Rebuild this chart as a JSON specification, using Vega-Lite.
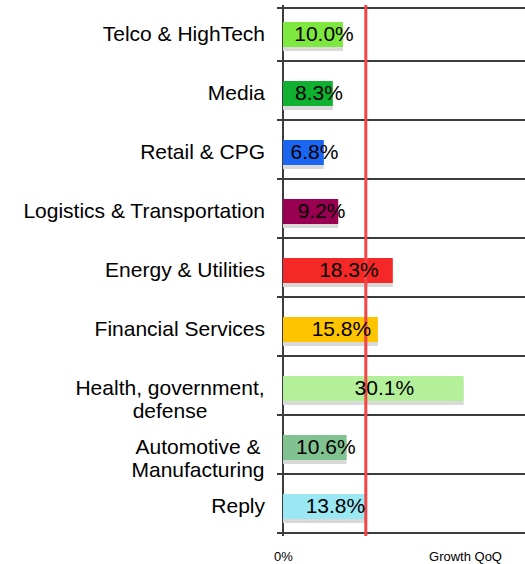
{
  "$schema": "https://vega.github.io/schema/vega-lite/v6.json",
  "width": 242,
  "height": 531,
  "autosize": {"type": "none"},
  "padding": {"left": 283, "top": 5, "right": 0, "bottom": 28},
  "background": "white",
  "config": {"view": {"stroke": null}, "font": "Liberation Sans"},
  "data": {
    "values": [
      {"cat": "Telco & HighTech", "v": 0.100},
      {"cat": "Media", "v": 0.083},
      {"cat": "Retail & CPG", "v": 0.068},
      {"cat": "Logistics & Transportation", "v": 0.092},
      {"cat": "Energy & Utilities", "v": 0.183},
      {"cat": "Financial Services", "v": 0.158},
      {"cat": "Health, government, defense", "v": 0.301},
      {"cat": "Automotive & Manufacturing", "v": 0.106},
      {"cat": "Reply", "v": 0.138}
    ]
  },
  "layer": [
    {
      "mark": {"type": "bar", "height": 25, "color": "#d9d9d9", "yOffset": 4},
      "encoding": {
        "x": {"field": "v", "type": "quantitative", "scale": {"domain": [0, 0.4033]}, "axis": null},
        "y": {
          "field": "cat", "type": "nominal", "sort": null,
          "axis": {
            "title": null, "tickBand": "extent", "translate": 0, "grid": true, "gridColor": "#3c3c3c", "gridWidth": 2, "gridOpacity": 1,
            "tickColor": "#3c3c3c", "tickWidth": 2, "tickSize": 6, "tickOpacity": 1,
            "domainColor": "#3c3c3c", "domainWidth": 2, "domainOpacity": 1,
            "labelFontSize": 21, "labelColor": "#000", "labelLimit": 0, "labelLineHeight": 23,
            "labelBaseline": "middle",
            "labelAlign": {"condition": {"test": "datum.value == 'Health, government, defense' || datum.value == 'Automotive & Manufacturing'", "value": "center"}, "value": "right"},
            "labelPadding": {"condition": [{"test": "datum.value == 'Health, government, defense'", "value": 107}, {"test": "datum.value == 'Automotive & Manufacturing'", "value": 79}], "value": 12},
            "labelExpr": "datum.value == 'Health, government, defense' ? ['Health, government,', 'defense'] : datum.value == 'Automotive & Manufacturing' ? ['Automotive &', 'Manufacturing'] : datum.label"
          }
        }
      }
    },
    {
      "mark": {"type": "bar", "height": 25},
      "encoding": {
        "x": {
          "field": "v", "type": "quantitative", "scale": {"domain": [0, 0.4033]},
          "axis": {
            "values": [0], "labelExpr": "'0%'", "domain": false, "ticks": false, "tickSize": 0, "grid": false,
            "labelFontSize": 13, "labelPadding": 14, "labelColor": "#000", "labelFlush": false,
            "title": "Growth QoQ", "titleFontSize": 13, "titleFontWeight": "normal", "titleColor": "#000",
            "titleX": 182, "titleY": 20, "titleBaseline": "middle", "titleAlign": "center"
          }
        },
        "y": {"field": "cat", "type": "nominal", "sort": null},
        "color": {
          "field": "cat", "type": "nominal", "legend": null,
          "scale": {
            "domain": ["Telco & HighTech", "Media", "Retail & CPG", "Logistics & Transportation", "Energy & Utilities", "Financial Services", "Health, government, defense", "Automotive & Manufacturing", "Reply"],
            "range": ["#7ee840", "#10b030", "#1a66f2", "#9a0052", "#f52828", "#ffc400", "#b4f09a", "#80c390", "#9ae8f4"]
          }
        }
      }
    },
    {
      "transform": [{"filter": "datum.cat == 'Reply'"}],
      "mark": {"type": "rule", "color": "#f44444", "strokeWidth": 3},
      "encoding": {
        "x": {"field": "v", "type": "quantitative", "scale": {"domain": [0, 0.4033]}, "axis": null}
      }
    },
    {
      "mark": {"type": "text", "fontSize": 21, "dx": 11, "color": "#000", "align": "center", "baseline": "middle"},
      "encoding": {
        "x": {"field": "v", "type": "quantitative", "scale": {"domain": [0, 0.8066]}, "axis": null},
        "y": {"field": "cat", "type": "nominal", "sort": null},
        "text": {"field": "v", "type": "quantitative", "format": ".1%"}
      }
    }
  ],
  "resolve": {"scale": {"x": "independent"}}
}
